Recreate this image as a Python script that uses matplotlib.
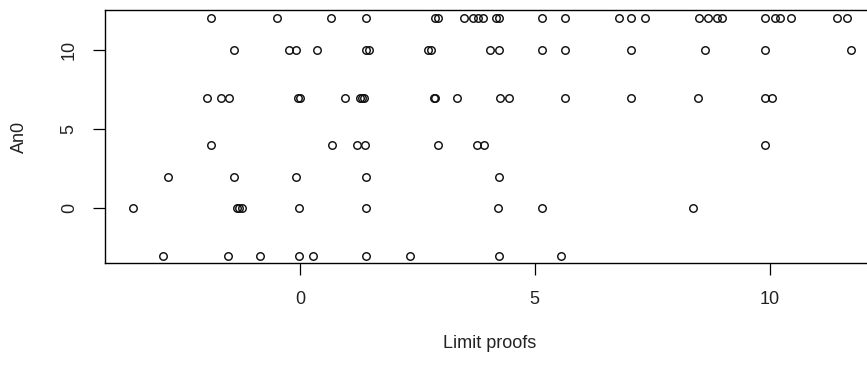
import matplotlib
matplotlib.use('Agg')
import matplotlib.pyplot as plt

plt.rcParams['font.family'] = ['Liberation Sans', 'DejaVu Sans']

# points per An0 level, x = Limit proofs
lev_12 = [-1.89, -0.48, 0.66, 1.40, 2.88, 2.95, 3.50, 3.69, 3.80, 3.89, 4.17, 4.24,
          5.16, 5.64, 6.79, 7.05, 7.35, 8.50, 8.69, 8.87, 8.98, 9.89, 10.11, 10.22,
          10.45, 11.44, 11.64]
lev_10 = [-1.41, -0.23, -0.08, 0.36, 1.40, 1.47, 2.72, 2.79, 4.05, 4.24, 5.16, 5.64,
          7.04, 8.63, 9.89, 11.73]
lev_7 = [-1.97, -1.67, -1.51, -0.04, 0.01, 0.96, 1.29, 1.33, 1.37, 2.85, 2.87, 3.34,
         4.25, 4.46, 5.64, 7.04, 8.48, 9.89, 10.04]
lev_4 = [-1.89, 0.69, 1.21, 1.39, 2.95, 3.77, 3.91, 9.89]
lev_2 = [-2.81, -1.41, -0.08, 1.40, 4.24]
lev_0 = [-3.55, -1.34, -1.29, -1.23, -0.01, 1.40, 4.21, 5.16, 8.37]
lev_m3 = [-2.92, -1.52, -0.85, -0.01, 0.29, 1.40, 2.35, 4.24, 5.55]

levels = [12, 10, 7, 4, 2, 0, -3]
groups = [lev_12, lev_10, lev_7, lev_4, lev_2, lev_0, lev_m3]

x = []
y = []
for lv, g in zip(levels, groups):
    x += g
    y += [lv] * len(g)

fig = plt.figure(figsize=(8.67, 3.65), dpi=100)
ax = fig.add_axes([105.3 / 867, 101.7 / 365, 772.5 / 867, 253.3 / 365])
ax.plot(x, y, 'o', ms=5.4, mfc='none', mec='#111111', mew=1.05)

ax.set_xlim(-4.14, 12.3)
ax.set_ylim(-3.47, 12.53)
ax.set_xticks([0, 5, 10])
ax.set_yticks([0, 5, 10])
ax.tick_params(length=8.8, width=0.9, labelsize=13, pad=11, labelcolor='#222222')
for lab in ax.get_yticklabels():
    lab.set_rotation(90)
    lab.set_va('center')
for s in ax.spines.values():
    s.set_linewidth(1.0)

ax.set_xlabel('Limit proofs', fontsize=13, color='#222222')
ax.set_ylabel('An0', fontsize=13, color='#222222')
ax.xaxis.set_label_coords(384.7 / 772.5, -(344 - 263.3) / 253.3)
ax.yaxis.set_label_coords(-(105.3 - 19) / 772.5, 0.5)
ax.xaxis.label.set_va('center')
ax.yaxis.label.set_va('center')

fig.savefig('out.png', dpi=100)
